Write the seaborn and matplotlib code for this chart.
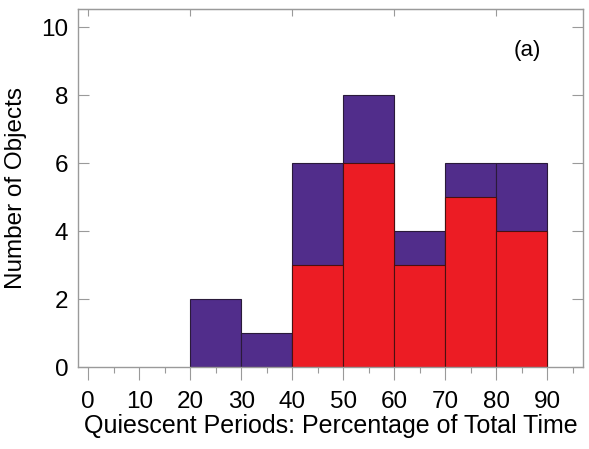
import numpy as np
import matplotlib
matplotlib.use("Agg")
import matplotlib.pyplot as plt
import seaborn as sns

# Histogram bins (percent of total time) and counts per bin
bin_edges = [20, 30, 40, 50, 60, 70, 80, 90]
all_counts = [2, 1, 6, 8, 4, 6, 6]
red_counts = [0, 0, 3, 6, 3, 5, 4]

purple = "#512D8B"
red = "#EC1C24"
spine_gray = "#9a9a9a"

sns.set_style("white")
plt.rcParams["font.family"] = ["Liberation Sans", "DejaVu Sans"]
plt.rcParams["text.color"] = "black"
plt.rcParams["axes.labelcolor"] = "black"
plt.rcParams["xtick.color"] = "black"
plt.rcParams["ytick.color"] = "black"

fig = plt.figure(figsize=(5.89, 4.49), dpi=100)
ax = fig.add_axes([0.1324, 0.1826, 0.8574, 0.7974])

centers = [(a + b) / 2 for a, b in zip(bin_edges[:-1], bin_edges[1:])]

sns.histplot(x=centers, weights=all_counts, bins=bin_edges, color=purple,
             alpha=1, edgecolor="#2a1a3a", linewidth=0.8, ax=ax)
sns.histplot(x=centers, weights=red_counts, bins=bin_edges, color=red,
             alpha=1, edgecolor="#4a1010", linewidth=0.8, ax=ax)

ax.set_xlim(-2, 97)
ax.set_ylim(0, 10.53)

ax.set_xticks(np.arange(0, 91, 10))
ax.set_xticks(np.arange(5, 96, 10), minor=True)
ax.set_yticks(np.arange(0, 11, 2))

for s in ax.spines.values():
    s.set_color(spine_gray)
    s.set_linewidth(1.0)

ax.tick_params(axis="x", which="major", direction="out", length=9, width=0.8,
               color=spine_gray, labelcolor="black", labelsize=17.5, pad=8,
               bottom=True, top=False)
ax.tick_params(axis="x", which="minor", direction="out", length=4, width=0.8,
               color=spine_gray, bottom=True, top=False)
ax.tick_params(axis="y", which="major", direction="in", length=8, width=0.8,
               color=spine_gray, labelcolor="black", labelsize=17.5,
               left=True, right=True, pad=7)

top = ax.secondary_xaxis("top")
top.set_xticks(np.arange(0, 81, 20))
top.tick_params(direction="in", length=5, width=0.8, color=spine_gray,
                labeltop=False)
top.spines["top"].set_color(spine_gray)

ax.set_xlabel("Quiescent Periods: Percentage of Total Time", fontsize=18,
              labelpad=1)
ax.set_ylabel("Number of Objects", fontsize=17.5, labelpad=10)

ax.text(86, 9.3, "(a)", fontsize=16, ha="center", va="center")

fig.savefig("out.png", dpi=100)
